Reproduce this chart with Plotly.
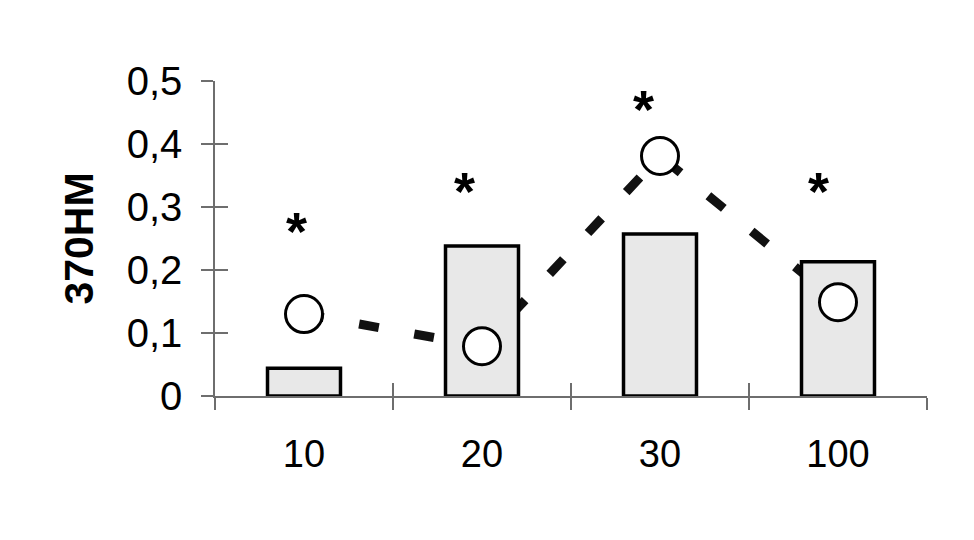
import plotly.graph_objects as go

categories = ["10", "20", "30", "100"]
bar_values = [0.044, 0.238, 0.257, 0.213]
circle_values = [0.130, 0.079, 0.381, 0.149]
sig_labels = ["*", "*", "*", "*"]
sig_y = [0.276, 0.340, 0.470, 0.340]
y_title = "370HM"

FONT = "Liberation Sans, Arial, sans-serif"
AXIS_COLOR = "#6e6e6e"

fig = go.Figure()

# dashed connecting line (drawn underneath the bars)
fig.add_trace(go.Scatter(
    x=categories, y=circle_values, mode="lines",
    line=dict(color="#111111", width=9, dash="20px,36px"),
    xaxis="x", yaxis="y", showlegend=False, hoverinfo="skip",
))

# bars (overlay axes so they sit above the dashed line)
fig.add_trace(go.Bar(
    x=categories, y=bar_values, width=0.41,
    marker=dict(color="#e8e8e8", line=dict(color="#000000", width=3.5)),
    xaxis="x2", yaxis="y2", showlegend=False,
))

# open circles
fig.add_trace(go.Scatter(
    x=categories, y=circle_values, mode="markers",
    marker=dict(symbol="circle", size=37, color="white",
                line=dict(color="#000000", width=3)),
    xaxis="x2", yaxis="y2", showlegend=False,
))

# significance asterisks (x given as category index)
xshifts = [-8, -18, -17, -20]
for i, (s, yv, dx) in enumerate(zip(sig_labels, sig_y, xshifts)):
    fig.add_annotation(
        x=i, y=yv, xref="x", yref="y", text=s, showarrow=False,
        xshift=dx, yshift=-9,
        font=dict(family=FONT, size=54, color="#000000", weight="bold"),
    )

common_x = dict(type="category", categoryorder="array", categoryarray=categories,
                range=[-0.5, 3.5], tickson="boundaries", domain=[0, 1])

fig.update_layout(
    width=974, height=540,
    margin=dict(l=207, r=55, t=73, b=152),
    paper_bgcolor="white", plot_bgcolor="white",
    separators=",.",
    font=dict(family=FONT, color="#000000"),
    xaxis=dict(**common_x, showline=True, linecolor=AXIS_COLOR, linewidth=1.5,
               ticks="outside", ticklen=12, tickwidth=1.5, tickcolor=AXIS_COLOR,
               showgrid=False, zeroline=False,
               tickfont=dict(family=FONT, size=38, color="#000000"),
               ticklabelstandoff=24, anchor="y"),
    yaxis=dict(range=[0, 0.5], dtick=0.1, tick0=0, showline=True,
               linecolor=AXIS_COLOR, linewidth=1.5,
               ticks="outside", ticklen=12, tickwidth=1.5, tickcolor=AXIS_COLOR,
               showgrid=False, zeroline=False,
               tickfont=dict(family=FONT, size=40, color="#000000"),
               ticklabelstandoff=11,
               title=dict(text=y_title, standoff=20,
                          font=dict(family=FONT, size=41, color="#000000", weight="bold")),
               anchor="x"),
    xaxis2=dict(**common_x, overlaying="x", anchor="y2", showline=False,
                ticks="inside", ticklen=13, tickwidth=1.5, tickcolor=AXIS_COLOR,
                showticklabels=False, showgrid=False, zeroline=False),
    yaxis2=dict(range=[0, 0.5], dtick=0.1, tick0=0, overlaying="y", anchor="x2",
                side="left", showline=False,
                ticks="inside", ticklen=13, tickwidth=1.5, tickcolor=AXIS_COLOR,
                showticklabels=False, showgrid=False, zeroline=False),
)

fig.write_html("out.html")
